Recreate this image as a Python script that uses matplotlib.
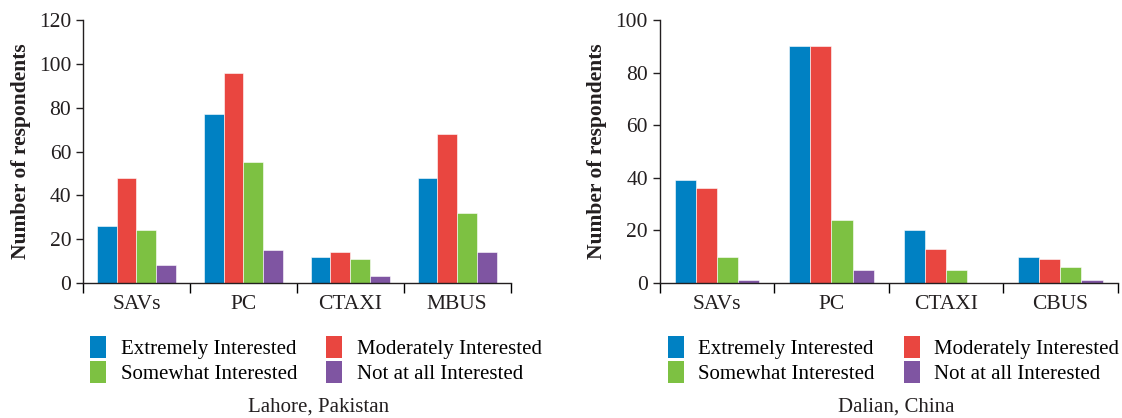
import numpy as np
import matplotlib
matplotlib.use('Agg')
import matplotlib.pyplot as plt
from matplotlib.patches import Patch

plt.rcParams['font.family'] = ['Liberation Serif', 'DejaVu Serif']

# datos
niveles = ['Extremely Interested', 'Moderately Interested',
           'Somewhat Interested', 'Not at all Interested']
colores = ['#0081c3', '#e94640', '#7dc142', '#7f55a2']

modos_lahore = ['SAVs', 'PC', 'CTAXI', 'MBUS']
lahore_extremely = [26, 77, 12, 48]
lahore_moderately = [48, 96, 14, 68]
lahore_somewhat = [24, 55, 11, 32]
lahore_notatall = [8, 15, 3, 14]

modos_dalian = ['SAVs', 'PC', 'CTAXI', 'CBUS']
dalian_extremely = [39, 90, 20, 10]
dalian_moderately = [36, 90, 13, 9]
dalian_somewhat = [10, 24, 5, 6]
dalian_notatall = [1, 5, 0, 1]


def grafica(ax, modos, series, ymax, titulo, xcentro):
    """Dibuja un panel de barras agrupadas con su leyenda y titulo"""
    x = np.arange(len(modos))
    ancho = 0.185
    for i, (vals, c) in enumerate(zip(series, colores)):
        ax.bar(x - 1.5 * ancho + i * ancho, vals, ancho, color=c,
               edgecolor='white', linewidth=0.4)
    ax.set_xlim(-0.5, len(modos) - 0.5)
    ax.set_ylim(0, ymax)
    ax.set_yticks(np.arange(0, ymax + 1, 20))
    ax.set_xticks(x)
    ax.set_xticklabels(modos)
    ax.set_xticks(np.arange(-0.5, len(modos)), minor=True)
    ax.tick_params(axis='x', which='major', length=0, pad=9)
    ax.tick_params(axis='x', which='minor', length=7, width=1, direction='out')
    ax.tick_params(axis='y', length=5, width=1, direction='out')
    ax.tick_params(labelsize=15.5, colors='#231f20')
    for s in ['top', 'right']:
        ax.spines[s].set_visible(False)
    for s in ['left', 'bottom']:
        ax.spines[s].set_color('#231f20')
        ax.spines[s].set_linewidth(1)
    ax.set_ylabel('Number of respondents', fontsize=15.5, fontweight='bold',
                  color='#231f20', labelpad=6)
    # orden por filas: la leyenda de matplotlib se llena por columnas
    orden = [0, 2, 1, 3]
    handles = [Patch(facecolor=colores[k], edgecolor='none') for k in orden]
    etiquetas = [niveles[k] for k in orden]
    ax.legend(handles, etiquetas, ncol=2, loc='upper center',
              bbox_to_anchor=(xcentro, -0.13), frameon=False, fontsize=15,
              handlelength=0.75, handleheight=1.25, handletextpad=0.7,
              columnspacing=1.4, labelspacing=0.12)
    ax.text(xcentro + 0.005, -0.47, titulo, transform=ax.transAxes,
            ha='center', va='center', fontsize=15, color='#231f20')


fig = plt.figure(figsize=(11.22, 4.18), dpi=100)
ax1 = fig.add_axes([0.074, 0.323, 0.381, 0.629])
ax2 = fig.add_axes([0.588, 0.323, 0.408, 0.629])

grafica(ax1, modos_lahore,
        [lahore_extremely, lahore_moderately, lahore_somewhat, lahore_notatall],
        120, 'Lahore, Pakistan', 0.545)
grafica(ax2, modos_dalian,
        [dalian_extremely, dalian_moderately, dalian_somewhat, dalian_notatall],
        100, 'Dalian, China', 0.511)

fig.savefig('out.png', dpi=100)
